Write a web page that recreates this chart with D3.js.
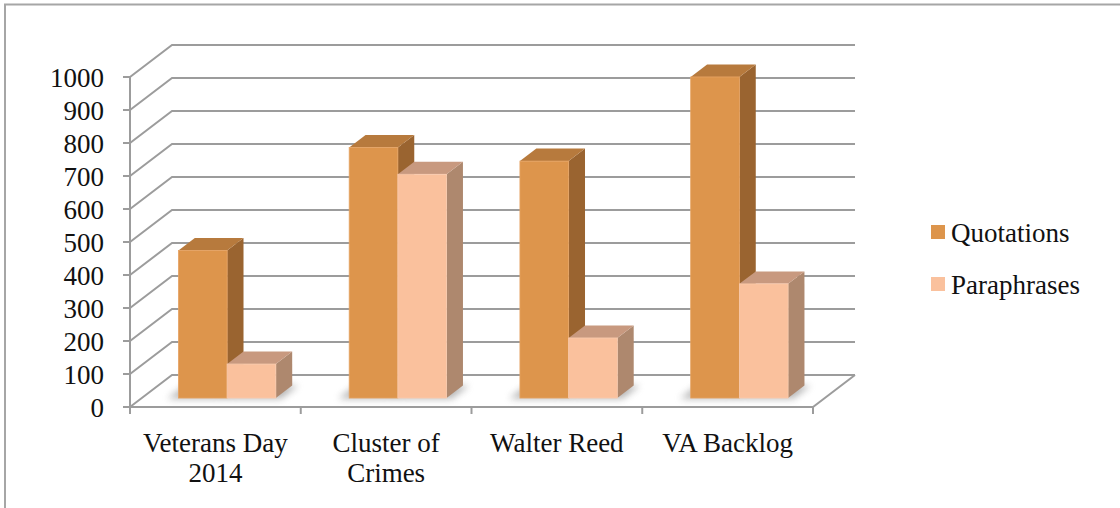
<!DOCTYPE html>
<html>
<head>
<meta charset="utf-8">
<script src="https://cdn.jsdelivr.net/npm/d3@7"></script>
<style>
  html, body { margin: 0; padding: 0; background: #fff; }
  svg { display: block; }
  text { font-family: "Liberation Serif", "Times New Roman", serif; fill: #111; }
</style>
</head>
<body>
<svg id="chart" width="1120" height="508"></svg>
<script>
// Category labels (multi-line where the label wraps)
const categories = ["Veterans Day 2014", "Cluster of Crimes", "Walter Reed", "VA Backlog"];
const categoryLines = [["Veterans Day", "2014"], ["Cluster of", "Crimes"], ["Walter Reed"], ["VA Backlog"]];
const seriesNames = ["Quotations", "Paraphrases"];
const quotations = [447, 759, 718, 973];
const paraphrases = [103, 678, 182, 346];
const yTicks = [0, 100, 200, 300, 400, 500, 600, 700, 800, 900, 1000];

const seriesValues = [quotations, paraphrases];
const colors = {
  Quotations:  { front: "#DD954C", top: "#B77A3D", side: "#9A6430", edge: "#E6A464" },
  Paraphrases: { front: "#FAC19D", top: "#C8997F", side: "#AE886E", edge: "#F9CBAE" }
};

const svg = d3.select("#chart");

// Plot geometry: front plane of the floor, and the depth vector of the 3D box
const plotLeft = 130, plotRight = 813, plotBase = 407, plotTop = 77;
const depthX = 42, depthY = -32;
const barD0 = 0.28, barD1 = 0.67;   // bars occupy this slice of the depth

const x = d3.scaleBand().domain(categories).range([plotLeft, plotRight]);
const xs = d3.scaleBand().domain(seriesNames).range([0, x.bandwidth()]).paddingInner(0).paddingOuter(0.753);
const y = d3.scaleLinear().domain([0, 1000]).range([plotBase, plotTop]);

const gridColor = "#9C9C9C";

// Outer frame (top and left edges visible)
svg.append("path")
  .attr("d", "M5,1000 L5,4.5 L1125,4.5")
  .attr("fill", "none").attr("stroke", "#A6A6A6").attr("stroke-width", 2);

// Back-wall gridlines: diagonal along the side wall, then across the back wall
const grid = svg.append("g").attr("fill", "none").attr("stroke", gridColor).attr("stroke-width", 2);
grid.selectAll("path.g").data(yTicks).join("path")
  .attr("class", "g")
  .attr("d", v => {
    const yy = y(v);
    return `M${plotLeft},${yy} L${plotLeft + depthX},${yy + depthY} L${plotRight + depthX},${yy + depthY}`;
  });

// Floor front and right edges
grid.append("path")
  .attr("d", `M${plotLeft},${plotBase} L${plotRight},${plotBase} L${plotRight + depthX},${plotBase + depthY}`);

// Vertical axis line and ticks
grid.append("line").attr("x1", plotLeft).attr("x2", plotLeft).attr("y1", y(1000)).attr("y2", plotBase);
grid.selectAll("line.yt").data(yTicks).join("line")
  .attr("class", "yt")
  .attr("x1", plotLeft - 7).attr("x2", plotLeft).attr("y1", v => y(v)).attr("y2", v => y(v));

// Category ticks along the floor front edge
const xTickPos = categories.map(c => x(c)).concat([plotRight]);
grid.selectAll("line.xt").data(xTickPos).join("line")
  .attr("class", "xt")
  .attr("x1", d => d).attr("x2", d => d).attr("y1", plotBase).attr("y2", plotBase + 7);

// Y tick labels
svg.append("g").selectAll("text").data(yTicks).join("text")
  .attr("x", 104).attr("y", v => y(v) + 10)
  .attr("text-anchor", "end")
  .attr("font-size", 27)
  .text(v => v);

// Category labels
const xl = svg.append("g");
categoryLines.forEach((lines, i) => {
  const cx = x(categories[i]) + x.bandwidth() / 2;
  lines.forEach((ln, j) => {
    xl.append("text")
      .attr("x", cx).attr("y", 452 + j * 30)
      .attr("text-anchor", "middle")
      .attr("font-size", 27)
      .text(ln);
  });
});

// Soft shadow under each bar
const defs = svg.append("defs");
defs.append("filter").attr("id", "shadowBlur")
  .attr("x", "-50%").attr("y", "-50%").attr("width", "200%").attr("height", "200%")
  .append("feGaussianBlur").attr("stdDeviation", 3.5);

const bars = [];
categories.forEach((c, i) => {
  seriesNames.forEach((s, k) => {
    bars.push({ cat: c, series: s, value: seriesValues[k][i] });
  });
});

function pt(xf, v, d) {
  // project (front-plane x, value, depth fraction) to screen
  return [xf + d * depthX, y(v) + d * depthY];
}

const shadows = svg.append("g").attr("filter", "url(#shadowBlur)").attr("opacity", 0.55);
bars.forEach(b => {
  const x0 = x(b.cat) + xs(b.series), x1 = x0 + xs.bandwidth();
  const p = [pt(x0 - 10, 0, barD0 - 0.02), pt(x1 + 6, 0, barD0 - 0.02), pt(x1 + 6, 0, barD1), pt(x0 - 10, 0, barD1)];
  shadows.append("path")
    .attr("d", "M" + p.map(q => q.join(",")).join("L") + "Z")
    .attr("fill", "#7a7a7a");
});

// 3D bars: front, top and right faces
const barG = svg.append("g");
bars.forEach(b => {
  const col = colors[b.series];
  const x0 = x(b.cat) + xs(b.series), x1 = x0 + xs.bandwidth();
  const v = b.value;
  const poly = pts => "M" + pts.map(q => q.join(",")).join("L") + "Z";
  const g = barG.append("g");
  // right side
  g.append("path")
    .attr("d", poly([pt(x1, 0, barD0), pt(x1, v, barD0), pt(x1, v, barD1), pt(x1, 0, barD1)]))
    .attr("fill", col.side);
  // top
  g.append("path")
    .attr("d", poly([pt(x0, v, barD0), pt(x1, v, barD0), pt(x1, v, barD1), pt(x0, v, barD1)]))
    .attr("fill", col.top);
  // front
  const f0 = pt(x0, v, barD0), f1 = pt(x1, 0, barD0);
  g.append("rect")
    .attr("x", f0[0]).attr("y", f0[1])
    .attr("width", f1[0] - f0[0]).attr("height", f1[1] - f0[1])
    .attr("fill", col.front)
    .attr("stroke", col.edge).attr("stroke-width", 0.8);
});

// Legend
const legend = svg.append("g");
seriesNames.forEach((s, k) => {
  const ly = 225 + k * 52;
  legend.append("rect")
    .attr("x", 931).attr("y", ly).attr("width", 14).attr("height", 14)
    .attr("fill", colors[s].front);
  legend.append("text")
    .attr("x", 951).attr("y", ly + 17)
    .attr("font-size", 27)
    .text(s);
});
</script>
</body>
</html>
